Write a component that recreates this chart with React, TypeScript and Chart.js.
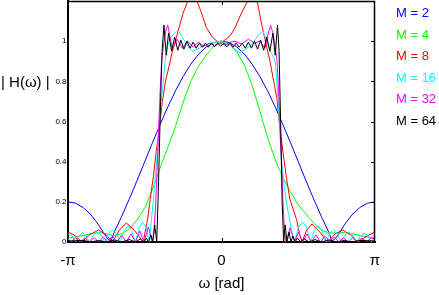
import { useEffect, useRef } from 'react';
import { Chart, registerables } from 'chart.js';

Chart.register(...registerables);

// ---- data (frequency in units of pi, magnitude |H|) ----
const seriesLabels = ['M = 2', 'M = 4', 'M = 8', 'M = 16', 'M = 32', 'M = 64'];
const seriesColors = ['#0000ff', '#00ff00', '#ff0000', '#00ffff', '#ff00ff', '#000000'];

const xTicks = [-1, 0, 1];
const xTickLabels = ['-π', '0', 'π'];
const yTicks = [0, 0.2, 0.4, 0.6, 0.8, 1];
const yTickLabels = ['0', '0.2', '0.4', '0.6', '0.8', '1'];

const freqM2 = [-1, -0.95, -0.9, -0.85, -0.8, -0.75, -0.72, -0.7, -0.65, -0.6, -0.55, -0.5, -0.45, -0.4, -0.35, -0.3, -0.25, -0.2, -0.15, -0.1, -0.05, 0, 0.05, 0.1, 0.15, 0.2, 0.25, 0.3, 0.35, 0.4, 0.45, 0.5, 0.55, 0.6, 0.65, 0.7, 0.72, 0.75, 0.8, 0.85, 0.9, 0.95, 1];
const magM2 = [0.2, 0.193, 0.171, 0.135, 0.085, 0.024, 0.003, 0.047, 0.128, 0.215, 0.306, 0.4, 0.494, 0.585, 0.672, 0.753, 0.824, 0.885, 0.935, 0.971, 0.993, 1, 0.993, 0.971, 0.935, 0.885, 0.824, 0.753, 0.672, 0.585, 0.494, 0.4, 0.306, 0.215, 0.128, 0.047, 0.003, 0.024, 0.085, 0.135, 0.171, 0.193, 0.2];

const freqM4 = [-1, -0.95, -0.9, -0.85, -0.8, -0.75, -0.7, -0.65, -0.6, -0.55, -0.5, -0.45, -0.4, -0.35, -0.3, -0.25, -0.2, -0.15, -0.1, -0.05, 0, 0.05, 0.1, 0.15, 0.2, 0.25, 0.3, 0.35, 0.4, 0.45, 0.5, 0.55, 0.6, 0.65, 0.7, 0.75, 0.8, 0.85, 0.9, 0.95, 1];
const magM4 = [0.02, 0.025, 0.032, 0.042, 0.047, 0.042, 0.032, 0.042, 0.065, 0.11, 0.17, 0.26, 0.37, 0.47, 0.575, 0.695, 0.8, 0.875, 0.93, 0.975, 0.995, 0.985, 0.945, 0.88, 0.78, 0.65, 0.52, 0.41, 0.32, 0.25, 0.185, 0.14, 0.095, 0.06, 0.045, 0.045, 0.047, 0.042, 0.032, 0.025, 0.02];

const freqM8 = [-1, -0.95, -0.91, -0.86, -0.8, -0.75, -0.71, -0.665, -0.62, -0.57, -0.51, -0.48, -0.465, -0.445, -0.425, -0.405, -0.385, -0.365, -0.34, -0.32, -0.29, -0.25, -0.22, -0.19, -0.16, -0.13, -0.1, -0.06, -0.03, 0, 0.03, 0.06, 0.09, 0.13, 0.17, 0.2, 0.235, 0.26, 0.28, 0.295, 0.316, 0.335, 0.36, 0.38, 0.4, 0.425, 0.446, 0.49, 0.51, 0.525, 0.555, 0.59, 0.64, 0.69, 0.74, 0.79, 0.84, 0.89, 0.95, 1];
const magM8 = [0.05, 0.03, 0, 0.035, 0.06, 0.035, 0, 0.06, 0.095, 0.06, 0, 0.12, 0.21, 0.32, 0.45, 0.57, 0.7, 0.8, 0.88, 0.95, 1.03, 1.14, 1.2, 1.23, 1.2, 1.14, 1.07, 1.02, 1.0, 0.995, 1.01, 1.03, 1.07, 1.14, 1.2, 1.23, 1.19, 1.09, 1.02, 0.97, 0.9, 0.82, 0.72, 0.57, 0.45, 0.31, 0.21, 0.11, 0.035, 0, 0.06, 0.09, 0.05, 0, 0.04, 0.06, 0.035, 0, 0.03, 0.05];

const freqM16 = [-1, -0.975, -0.95, -0.93, -0.905, -0.88, -0.86, -0.835, -0.81, -0.785, -0.76, -0.735, -0.71, -0.685, -0.66, -0.635, -0.61, -0.585, -0.56, -0.537, -0.515, -0.49, -0.47, -0.444, -0.422, -0.4, -0.379, -0.368, -0.35, -0.33, -0.3, -0.28, -0.24, -0.21, -0.185, -0.13, -0.075, 0, 0.05, 0.12, 0.2, 0.24, 0.27, 0.3, 0.32, 0.35, 0.37, 0.38, 0.39, 0.41, 0.42, 0.45, 0.475, 0.5, 0.53, 0.555, 0.58, 0.605, 0.63, 0.655, 0.68, 0.705, 0.73, 0.755, 0.78, 0.805, 0.83, 0.855, 0.88, 0.905, 0.93, 0.955, 0.975, 1];
const magM16 = [0.04, 0.03, 0, 0.03, 0.045, 0.03, 0, 0.035, 0.05, 0.035, 0, 0.042, 0.06, 0.042, 0, 0.056, 0.08, 0.056, 0, 0.07, 0.1, 0.07, 0, 0.21, 0.41, 0.64, 0.8, 0.9, 0.98, 1.02, 1.045, 1.05, 1.0, 0.965, 0.95, 0.97, 0.99, 1.0, 0.985, 0.94, 0.985, 1.03, 1.05, 0.99, 0.95, 0.9, 0.7, 0.54, 0.41, 0.27, 0.21, 0.08, 0, 0.07, 0.1, 0.07, 0, 0.056, 0.08, 0.056, 0, 0.042, 0.06, 0.042, 0, 0.035, 0.05, 0.035, 0, 0.03, 0.045, 0.03, 0, 0.03];

const freqM32 = [-1, -0.98, -0.95, -0.92, -0.89, -0.86, -0.83, -0.8, -0.77, -0.74, -0.71, -0.68, -0.65, -0.62, -0.59, -0.56, -0.532, -0.505, -0.477, -0.45, -0.44, -0.43, -0.42, -0.41, -0.4, -0.39, -0.375, -0.36, -0.35, -0.335, -0.32, -0.29, -0.255, -0.22, -0.185, -0.15, -0.115, -0.08, -0.045, -0.01, 0.025, 0.06, 0.088, 0.13, 0.175, 0.218, 0.25, 0.283, 0.305, 0.32, 0.338, 0.35, 0.362, 0.372, 0.38, 0.39, 0.4, 0.41, 0.42, 0.447, 0.475, 0.502, 0.53, 0.557, 0.585, 0.615, 0.645, 0.675, 0.705, 0.735, 0.765, 0.795, 0.825, 0.855, 0.885, 0.915, 0.945, 0.975, 1];
const magM32 = [0.015, 0, 0.02, 0, 0.02, 0, 0.022, 0, 0.025, 0, 0.03, 0, 0.035, 0, 0.04, 0, 0.055, 0, 0.075, 0, 0.05, 0.17, 0.35, 0.55, 0.75, 0.9, 1.0, 1.06, 1.08, 1.02, 0.96, 1.01, 0.965, 1.0, 0.97, 0.995, 0.975, 0.99, 0.98, 0.99, 0.98, 0.995, 1.0, 0.985, 1.01, 0.99, 1.0, 0.965, 1.04, 1.08, 1.03, 0.97, 0.9, 0.75, 0.6, 0.42, 0.21, 0.06, 0, 0.07, 0, 0.05, 0, 0.04, 0, 0.035, 0, 0.03, 0, 0.025, 0, 0.022, 0, 0.02, 0, 0.02, 0, 0.02, 0.015];

const freqM64 = [-1, -0.9, -0.85, -0.8, -0.75, -0.7, -0.65, -0.6, -0.56, -0.53, -0.505, -0.49, -0.475, -0.46, -0.448, -0.435, -0.422, -0.41, -0.397, -0.387, -0.375, -0.36, -0.345, -0.325, -0.305, -0.285, -0.265, -0.245, -0.225, -0.205, -0.185, -0.165, -0.145, -0.125, -0.105, -0.085, -0.065, -0.045, -0.025, -0.005, 0.015, 0.035, 0.055, 0.075, 0.095, 0.115, 0.135, 0.155, 0.175, 0.195, 0.215, 0.235, 0.255, 0.275, 0.295, 0.315, 0.335, 0.35, 0.365, 0.375, 0.385, 0.395, 0.405, 0.415, 0.427, 0.44, 0.452, 0.465, 0.48, 0.495, 0.515, 0.54, 0.57, 0.61, 0.65, 0.7, 0.75, 0.8, 0.85, 0.9, 1];
const magM64 = [0.005, 0.008, 0, 0.008, 0, 0.01, 0, 0.012, 0, 0.015, 0, 0.02, 0, 0.035, 0, 0.085, 0, 0.3, 0.7, 0.95, 1.08, 0.93, 1.04, 0.95, 1.02, 0.955, 1.005, 0.96, 1.0, 0.965, 0.995, 0.965, 0.99, 0.97, 0.99, 0.97, 0.99, 0.972, 0.99, 0.975, 0.99, 0.972, 0.99, 0.97, 0.99, 0.97, 0.99, 0.965, 0.995, 0.965, 1.0, 0.96, 1.005, 0.955, 1.02, 0.95, 1.04, 0.93, 1.08, 0.95, 0.6, 0.2, 0, 0.085, 0, 0.05, 0, 0.03, 0, 0.02, 0, 0.015, 0, 0.012, 0, 0.01, 0, 0.008, 0, 0.008, 0.005];

const seriesFreqs = [freqM2, freqM4, freqM8, freqM16, freqM32, freqM64];
const seriesMags = [magM2, magM4, magM8, magM16, magM32, magM64];

const FONT = "'Liberation Sans', Arial, Helvetica, sans-serif";

const framePlugin = {
  id: 'frameAndLabels',
  afterDraw(chart: any) {
    const { ctx, chartArea } = chart;
    const { left, right, top, bottom } = chartArea;
    const xs = chart.scales.x;
    const ys = chart.scales.y;
    ctx.save();
    ctx.strokeStyle = '#000';
    // top and right border
    ctx.lineWidth = 1.5;
    ctx.beginPath();
    ctx.moveTo(left, top + 0.5);
    ctx.lineTo(right, top + 0.5);
    ctx.moveTo(right - 0.5, top);
    ctx.lineTo(right - 0.5, bottom);
    ctx.stroke();
    // inward tick marks
    ctx.lineWidth = 1;
    ctx.beginPath();
    yTicks.forEach((v) => {
      if (v === 0) return;
      const py = Math.round(ys.getPixelForValue(v)) + 0.5;
      ctx.moveTo(right - 4, py);
      ctx.lineTo(right, py);
    });
    xTicks.forEach((v) => {
      if (v === -1 || v === 1) return;
      const px = Math.round(xs.getPixelForValue(v)) + 0.5;
      ctx.moveTo(px, bottom);
      ctx.lineTo(px, bottom - 4);
      ctx.moveTo(px, top);
      ctx.lineTo(px, top + 4);
    });
    ctx.stroke();
    // y title (horizontal)
    ctx.fillStyle = '#000';
    ctx.font = `15px ${FONT}`;
    ctx.textAlign = 'left';
    ctx.textBaseline = 'middle';
    ctx.fillText('| H(ω) |', 1, 83);
    // legend
    ctx.font = `13px ${FONT}`;
    chart.data.datasets.forEach((ds: any, i: number) => {
      ctx.fillStyle = ds.borderColor;
      ctx.fillText(ds.label, right + 21, 13.5 + i * 21.5);
    });
    ctx.restore();
  },
};

export default function App() {
  const ref = useRef<HTMLCanvasElement | null>(null);

  useEffect(() => {
    if (!ref.current) return;
    const datasets = seriesLabels.map((label, i) => ({
      label,
      data: seriesFreqs[i].map((f, j) => ({ x: f, y: seriesMags[i][j] })),
      borderColor: seriesColors[i],
      backgroundColor: seriesColors[i],
      borderWidth: 1,
      pointRadius: 0,
      tension: 0,
      fill: false,
      order: seriesLabels.length - i,
    }));
    const chart = new Chart(ref.current, {
      type: 'line',
      data: { datasets },
      options: {
        animation: false,
        responsive: true,
        maintainAspectRatio: false,
        layout: { autoPadding: false, padding: { top: 1, right: 64, left: 0, bottom: 0 } },
        plugins: { legend: { display: false }, tooltip: { enabled: false } },
        scales: {
          x: {
            type: 'linear',
            min: -1,
            max: 1,
            afterBuildTicks: (s: any) => {
              s.ticks = xTicks.map((v) => ({ value: v }));
            },
            afterFit: (s: any) => {
              s.height = 53;
              s.paddingLeft = 0;
              s.paddingRight = 0;
            },
            ticks: {
              callback: (_v: any, i: number) => xTickLabels[i],
              font: { family: FONT, size: 15 },
              color: '#000',
              padding: 10,
              maxRotation: 0,
              autoSkip: false,
            },
            grid: { display: false, drawTicks: false },
            border: { display: true, color: '#000', width: 2 },
            title: {
              display: true,
              text: 'ω [rad]',
              color: '#000',
              font: { family: FONT, size: 15 },
              padding: { top: 0, bottom: 2 },
            },
          },
          y: {
            min: 0,
            max: 1.2,
            afterBuildTicks: (s: any) => {
              s.ticks = yTicks.map((v) => ({ value: v }));
            },
            afterFit: (s: any) => {
              s.width = 68;
              s.paddingTop = 0;
              s.paddingBottom = 0;
            },
            ticks: {
              callback: (_v: any, i: number) => yTickLabels[i],
              font: { family: FONT, size: 8 },
              color: '#000',
              padding: 1.5,
              autoSkip: false,
            },
            grid: { display: false, drawTicks: false },
            border: { display: true, color: '#000', width: 2 },
          },
        },
      },
      plugins: [framePlugin],
    });
    return () => chart.destroy();
  }, []);

  return (
    <div style={{ position: 'fixed', left: 0, top: 0, width: 439, height: 295, background: '#fff' }}>
      <canvas ref={ref} />
    </div>
  );
}
